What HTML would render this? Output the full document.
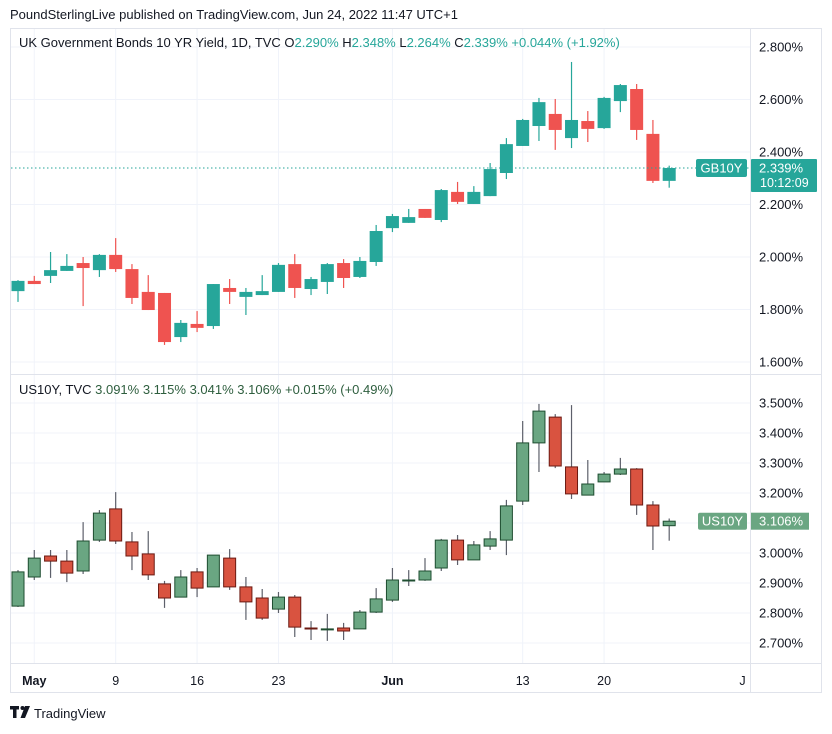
<!DOCTYPE html>
<html><head><meta charset="utf-8">
<style>
body{margin:0;background:#fff;width:832px;height:729px;overflow:hidden;font-family:"Liberation Sans",sans-serif;}
svg text{font-family:"Liberation Sans",sans-serif;}
</style></head>
<body>
<svg id="chart" width="832" height="729" xmlns="http://www.w3.org/2000/svg">
<text x="10" y="19" font-size="13" fill="#131722">PoundSterlingLive published on TradingView.com, Jun 24, 2022 11:47 UTC+1</text>
<rect x="10.5" y="28.5" width="811" height="664" fill="#fff" stroke="#e0e3eb"/>
<g id="grid"></g>
<line x1="10" x2="822" y1="374.5" y2="374.5" stroke="#e0e3eb"/>
<line x1="750.5" x2="750.5" y1="28" y2="692" stroke="#e0e3eb"/>
<line x1="10" x2="822" y1="663.5" y2="663.5" stroke="#e0e3eb"/>
<g id="top-candles"></g>
<g id="bot-candles"></g>
<g id="axes"></g>
<text x="19" y="47" font-size="13" fill="#131722">UK Government Bonds 10 YR Yield, 1D, TVC O<tspan fill="#26a69a">2.290%</tspan> H<tspan fill="#26a69a">2.348%</tspan> L<tspan fill="#26a69a">2.264%</tspan> C<tspan fill="#26a69a">2.339%</tspan> <tspan fill="#26a69a">+0.044% (+1.92%)</tspan></text>
<text x="19" y="394" font-size="13" fill="#131722">US10Y, TVC <tspan fill="#2e5e3e">3.091% 3.115% 3.041% 3.106% +0.015% (+0.49%)</tspan></text>
<g>
<rect x="10" y="706" width="9" height="3.5" fill="#131722"/><rect x="13" y="706" width="3.5" height="12" fill="#131722"/><circle cx="22.5" cy="708" r="2" fill="#131722"/><path d="M25 706 L30 706 L25 718 L20.5 718 Z" fill="#131722"/>
<text x="34" y="718" font-size="13" fill="#131722">TradingView</text>
</g>
</svg>
<script>
const dayLabels=["May","9","16","23","Jun","13","20","J"];
const dayLabelIdx=[1,6,11,16,23,31,36,44.5];
const topTicks=[2.8,2.6,2.4,2.2,2.0,1.8,1.6];
const botTicks=[3.5,3.4,3.3,3.2,3.1,3.0,2.9,2.8,2.7];
const gbOpen=[1.870,1.909,1.928,1.947,1.977,1.950,2.008,1.954,1.867,1.863,1.695,1.745,1.737,1.882,1.848,1.855,1.867,1.973,1.878,1.905,1.977,1.924,1.981,2.110,2.130,2.183,2.141,2.248,2.202,2.232,2.320,2.423,2.499,2.545,2.453,2.518,2.491,2.594,2.640,2.469,2.290];
const gbHigh=[1.912,1.928,2.019,2.011,2.000,2.011,2.072,1.973,1.931,1.863,1.760,1.794,1.897,1.916,1.882,1.931,1.977,2.011,1.924,1.977,1.992,2.000,2.122,2.164,2.183,2.183,2.259,2.286,2.270,2.358,2.453,2.526,2.606,2.602,2.743,2.556,2.610,2.659,2.659,2.522,2.348];
const gbLow=[1.829,1.897,1.901,1.947,1.813,1.924,1.943,1.821,1.798,1.665,1.676,1.714,1.726,1.821,1.779,1.855,1.867,1.844,1.855,1.859,1.882,1.920,1.966,2.095,2.130,2.149,2.133,2.202,2.202,2.232,2.297,2.423,2.442,2.408,2.415,2.438,2.488,2.552,2.446,2.282,2.264];
const gbClose=[1.909,1.897,1.950,1.966,1.958,2.008,1.954,1.844,1.798,1.676,1.749,1.730,1.897,1.867,1.867,1.870,1.970,1.882,1.916,1.973,1.920,1.985,2.099,2.156,2.152,2.149,2.255,2.210,2.248,2.335,2.430,2.522,2.590,2.484,2.522,2.488,2.606,2.655,2.484,2.290,2.339];
const usOpen=[2.823,2.920,2.990,2.973,2.940,3.043,3.147,3.037,2.997,2.897,2.853,2.937,2.887,2.983,2.887,2.850,2.813,2.853,2.750,2.747,2.750,2.747,2.803,2.843,2.910,2.910,2.950,3.043,2.977,3.023,3.043,3.173,3.367,3.453,3.287,3.193,3.237,3.263,3.280,3.160,3.091];
const usHigh=[2.943,3.010,3.010,3.010,3.103,3.143,3.203,3.070,3.073,2.907,2.943,2.950,2.993,3.013,2.920,2.880,2.870,2.860,2.773,2.797,2.767,2.810,2.883,2.950,2.943,2.983,3.047,3.060,3.040,3.073,3.177,3.440,3.497,3.463,3.493,3.310,3.270,3.317,3.283,3.173,3.115];
const usLow=[2.820,2.910,2.917,2.903,2.930,3.037,3.030,2.943,2.910,2.817,2.853,2.853,2.887,2.877,2.777,2.777,2.800,2.720,2.710,2.707,2.710,2.747,2.800,2.837,2.890,2.907,2.940,2.960,2.977,3.010,2.993,3.160,3.270,3.283,3.180,3.193,3.237,3.260,3.127,3.010,3.041];
const usClose=[2.937,2.983,2.973,2.933,3.040,3.133,3.040,2.990,2.927,2.850,2.920,2.883,2.993,2.887,2.837,2.783,2.853,2.753,2.747,2.747,2.740,2.803,2.847,2.910,2.910,2.940,3.043,2.977,3.027,3.047,3.157,3.367,3.473,3.290,3.197,3.230,3.263,3.280,3.160,3.090,3.106];

const NS="http://www.w3.org/2000/svg";
const xOf=i=>18+16.28*i;
const yTop=v=>47+(2.8-v)*262.5;
const yBot=v=>403+(3.5-v)*300;
function mk(tag,attrs,parent){const e=document.createElementNS(NS,tag);for(const k in attrs)e.setAttribute(k,attrs[k]);parent.appendChild(e);return e;}
const grid=document.getElementById('grid'),axes=document.getElementById('axes');
topTicks.forEach(t=>{
  const l=mk('line',{x1:11,x2:750,y1:yTop(t),y2:yTop(t),stroke:'#f0f3fa'},grid);
  
  
  const tx=mk('text',{x:759,y:yTop(t)+4.5,'font-size':13,fill:'#131722'},axes);
  tx.textContent=t.toFixed(3)+'%';
  
  
});
botTicks.forEach(t=>{
  const l=mk('line',{x1:11,x2:750,y1:yBot(t),y2:yBot(t),stroke:'#f0f3fa'},grid);
  
  
  const tx=mk('text',{x:759,y:yBot(t)+4.5,'font-size':13,fill:'#131722'},axes);
  tx.textContent=t.toFixed(3)+'%';
  
  
});
dayLabels.forEach((d,k)=>{
  const x=xOf(dayLabelIdx[k]);
  if(k<7){const l=mk('line',{x1:x,x2:x,y1:29,y2:663,stroke:'#f0f3fa'},grid);
  
  }
  const tx=mk('text',{x:x,y:685,'font-size':12.5,fill:'#131722','text-anchor':'middle','font-weight':(d==='May'||d==='Jun')?'bold':'normal'},axes);
  tx.textContent=d;
  
  
});
function draw(o,h,l,c,yf,g,up,dn,upB,dnB,name){
  o.forEach((ov,i)=>{
    const x=xOf(i),isUp=c[i]>=ov;
    const w=mk('line',{x1:x,x2:x,y1:yf(h[i]),y2:yf(l[i]),stroke:upB?'#5d606b':(isUp?up:dn),'stroke-width':1.2},g);
    
    
    const top=yf(Math.max(ov,c[i])),bh=Math.max(1,yf(Math.min(ov,c[i]))-top);
    const attrs={x:x-6.5,y:top,width:13,height:bh,fill:isUp?up:dn};
    if(upB){attrs.stroke=isUp?upB:dnB;attrs['stroke-width']=1;attrs.x=x-6;attrs.width=12;}
    const r=mk('rect',attrs,g);
    
    
  });
}
draw(gbOpen,gbHigh,gbLow,gbClose,yTop,document.getElementById('top-candles'),'#26a69a','#ef5350',null,null,'gb10y');
draw(usOpen,usHigh,usLow,usClose,yBot,document.getElementById('bot-candles'),'#6aa682','#d95340','#1e4d30','#6b1a12','us10y');
const ly=yTop(gbClose[gbClose.length-1]);
const pl=mk('line',{x1:11,x2:750,y1:ly,y2:ly,stroke:'#26a69a','stroke-dasharray':'1.5 2.5'},axes);


const gl=mk('rect',{x:696,y:ly-9,width:51,height:18,rx:2,fill:'#26a69a'},axes);


const gt=mk('text',{x:721.5,y:ly+4.5,'font-size':13,fill:'#fff','text-anchor':'middle'},axes);gt.textContent='GB10Y';


const gp=mk('rect',{x:751,y:ly-9,width:66,height:33,rx:1,fill:'#26a69a'},axes);


const gpt=mk('text',{x:759,y:ly+4.5,'font-size':13,fill:'#fff'},axes);gpt.textContent=gbClose[gbClose.length-1].toFixed(3)+'%';


const gct=mk('text',{x:760,y:ly+19,'font-size':12.5,fill:'#fff'},axes);gct.textContent='10:12:09';


const uy=yBot(usClose[usClose.length-1]);
const ul=mk('rect',{x:698,y:uy-8.5,width:49,height:17,rx:2,fill:'#6aa682'},axes);


const ut=mk('text',{x:722.5,y:uy+4.5,'font-size':13,fill:'#fff','text-anchor':'middle'},axes);ut.textContent='US10Y';


const up=mk('rect',{x:751,y:uy-8.5,width:58,height:17,fill:'#6aa682'},axes);


const upt=mk('text',{x:759,y:uy+4.5,'font-size':13,fill:'#fff'},axes);upt.textContent=usClose[usClose.length-1].toFixed(3)+'%';


</script>
</body></html>
